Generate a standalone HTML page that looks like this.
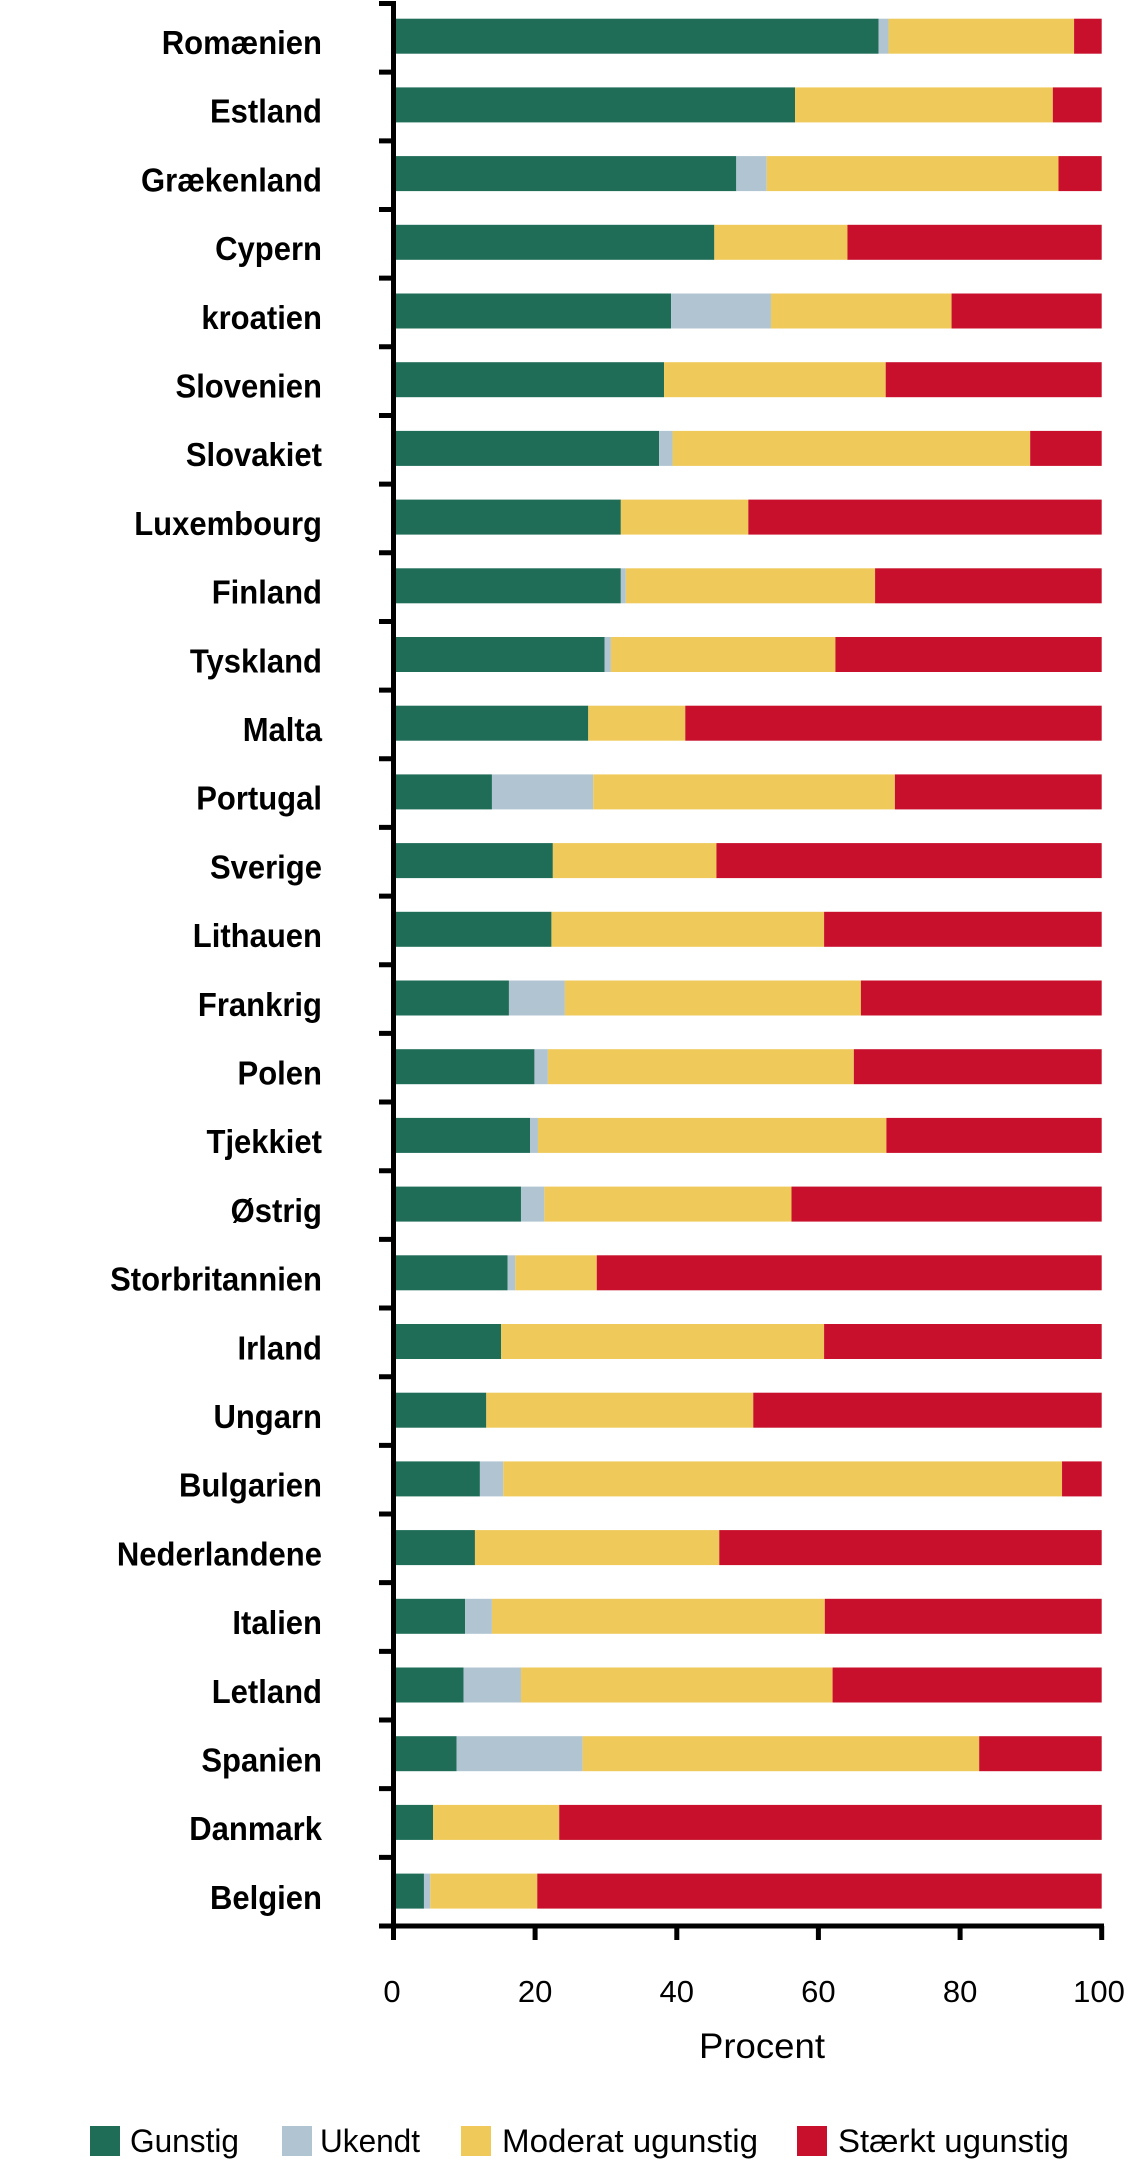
<!DOCTYPE html>
<html>
<head>
<meta charset="utf-8">
<style>
  html,body{margin:0;padding:0;background:#fff;}
  svg{display:block;}
  .lab{font-family:"Liberation Sans",Arial,sans-serif;font-weight:bold;font-size:33px;fill:#000;}
  .tk{font-family:"Liberation Sans",Arial,sans-serif;font-size:31px;fill:#000;}
  .ax{font-family:"Liberation Sans",Arial,sans-serif;font-size:35px;fill:#000;}
  .lg{font-family:"Liberation Sans",Arial,sans-serif;font-size:32.5px;fill:#000;}
</style>
</head>
<body>
<svg width="1131" height="2177" viewBox="0 0 1131 2177" xmlns="http://www.w3.org/2000/svg">
<rect x="0" y="0" width="1131" height="2177" fill="#fff"/>

<!-- bars -->
<g transform="translate(393.5 0) scale(7.082 1)">
  <g transform="translate(0 18.7)"><rect x="0" width="68.5" height="35" fill="#1f6c57"/><rect x="68.5" width="1.4" height="35" fill="#b0c5d1"/><rect x="69.9" width="26.2" height="35" fill="#efca5a"/><rect x="96.1" width="3.9" height="35" fill="#c8102c"/></g>
  <g transform="translate(0 87.4)"><rect x="0" width="56.7" height="35" fill="#1f6c57"/><rect x="56.7" width="36.4" height="35" fill="#efca5a"/><rect x="93.1" width="6.9" height="35" fill="#c8102c"/></g>
  <g transform="translate(0 156.1)"><rect x="0" width="48.4" height="35" fill="#1f6c57"/><rect x="48.4" width="4.3" height="35" fill="#b0c5d1"/><rect x="52.7" width="41.2" height="35" fill="#efca5a"/><rect x="93.9" width="6.1" height="35" fill="#c8102c"/></g>
  <g transform="translate(0 224.8)"><rect x="0" width="45.3" height="35" fill="#1f6c57"/><rect x="45.3" width="18.8" height="35" fill="#efca5a"/><rect x="64.1" width="35.9" height="35" fill="#c8102c"/></g>
  <g transform="translate(0 293.5)"><rect x="0" width="39.2" height="35" fill="#1f6c57"/><rect x="39.2" width="14.1" height="35" fill="#b0c5d1"/><rect x="53.3" width="25.5" height="35" fill="#efca5a"/><rect x="78.8" width="21.2" height="35" fill="#c8102c"/></g>
  <g transform="translate(0 362.2)"><rect x="0" width="38.2" height="35" fill="#1f6c57"/><rect x="38.2" width="31.3" height="35" fill="#efca5a"/><rect x="69.5" width="30.5" height="35" fill="#c8102c"/></g>
  <g transform="translate(0 430.9)"><rect x="0" width="37.5" height="35" fill="#1f6c57"/><rect x="37.5" width="1.9" height="35" fill="#b0c5d1"/><rect x="39.4" width="50.5" height="35" fill="#efca5a"/><rect x="89.9" width="10.1" height="35" fill="#c8102c"/></g>
  <g transform="translate(0 499.6)"><rect x="0" width="32.1" height="35" fill="#1f6c57"/><rect x="32.1" width="18.0" height="35" fill="#efca5a"/><rect x="50.1" width="49.9" height="35" fill="#c8102c"/></g>
  <g transform="translate(0 568.3)"><rect x="0" width="32.1" height="35" fill="#1f6c57"/><rect x="32.1" width="0.7" height="35" fill="#b0c5d1"/><rect x="32.8" width="35.2" height="35" fill="#efca5a"/><rect x="68.0" width="32.0" height="35" fill="#c8102c"/></g>
  <g transform="translate(0 637.0)"><rect x="0" width="29.8" height="35" fill="#1f6c57"/><rect x="29.8" width="0.9" height="35" fill="#b0c5d1"/><rect x="30.7" width="31.7" height="35" fill="#efca5a"/><rect x="62.4" width="37.6" height="35" fill="#c8102c"/></g>
  <g transform="translate(0 705.7)"><rect x="0" width="27.5" height="35" fill="#1f6c57"/><rect x="27.5" width="13.7" height="35" fill="#efca5a"/><rect x="41.2" width="58.8" height="35" fill="#c8102c"/></g>
  <g transform="translate(0 774.4)"><rect x="0" width="13.9" height="35" fill="#1f6c57"/><rect x="13.9" width="14.3" height="35" fill="#b0c5d1"/><rect x="28.2" width="42.6" height="35" fill="#efca5a"/><rect x="70.8" width="29.2" height="35" fill="#c8102c"/></g>
  <g transform="translate(0 843.1)"><rect x="0" width="22.5" height="35" fill="#1f6c57"/><rect x="22.5" width="23.1" height="35" fill="#efca5a"/><rect x="45.6" width="54.4" height="35" fill="#c8102c"/></g>
  <g transform="translate(0 911.8)"><rect x="0" width="22.3" height="35" fill="#1f6c57"/><rect x="22.3" width="38.5" height="35" fill="#efca5a"/><rect x="60.8" width="39.2" height="35" fill="#c8102c"/></g>
  <g transform="translate(0 980.5)"><rect x="0" width="16.3" height="35" fill="#1f6c57"/><rect x="16.3" width="7.9" height="35" fill="#b0c5d1"/><rect x="24.2" width="41.8" height="35" fill="#efca5a"/><rect x="66.0" width="34.0" height="35" fill="#c8102c"/></g>
  <g transform="translate(0 1049.2)"><rect x="0" width="19.9" height="35" fill="#1f6c57"/><rect x="19.9" width="1.9" height="35" fill="#b0c5d1"/><rect x="21.8" width="43.2" height="35" fill="#efca5a"/><rect x="65.0" width="35.0" height="35" fill="#c8102c"/></g>
  <g transform="translate(0 1117.9)"><rect x="0" width="19.3" height="35" fill="#1f6c57"/><rect x="19.3" width="1.1" height="35" fill="#b0c5d1"/><rect x="20.4" width="49.2" height="35" fill="#efca5a"/><rect x="69.6" width="30.4" height="35" fill="#c8102c"/></g>
  <g transform="translate(0 1186.6)"><rect x="0" width="18.0" height="35" fill="#1f6c57"/><rect x="18.0" width="3.3" height="35" fill="#b0c5d1"/><rect x="21.3" width="34.9" height="35" fill="#efca5a"/><rect x="56.2" width="43.8" height="35" fill="#c8102c"/></g>
  <g transform="translate(0 1255.3)"><rect x="0" width="16.1" height="35" fill="#1f6c57"/><rect x="16.1" width="1.1" height="35" fill="#b0c5d1"/><rect x="17.2" width="11.5" height="35" fill="#efca5a"/><rect x="28.7" width="71.3" height="35" fill="#c8102c"/></g>
  <g transform="translate(0 1324.0)"><rect x="0" width="15.2" height="35" fill="#1f6c57"/><rect x="15.2" width="45.6" height="35" fill="#efca5a"/><rect x="60.8" width="39.2" height="35" fill="#c8102c"/></g>
  <g transform="translate(0 1392.7)"><rect x="0" width="13.1" height="35" fill="#1f6c57"/><rect x="13.1" width="37.7" height="35" fill="#efca5a"/><rect x="50.8" width="49.2" height="35" fill="#c8102c"/></g>
  <g transform="translate(0 1461.4)"><rect x="0" width="12.2" height="35" fill="#1f6c57"/><rect x="12.2" width="3.3" height="35" fill="#b0c5d1"/><rect x="15.5" width="78.9" height="35" fill="#efca5a"/><rect x="94.4" width="5.6" height="35" fill="#c8102c"/></g>
  <g transform="translate(0 1530.1)"><rect x="0" width="11.5" height="35" fill="#1f6c57"/><rect x="11.5" width="34.5" height="35" fill="#efca5a"/><rect x="46.0" width="54.0" height="35" fill="#c8102c"/></g>
  <g transform="translate(0 1598.8)"><rect x="0" width="10.1" height="35" fill="#1f6c57"/><rect x="10.1" width="3.8" height="35" fill="#b0c5d1"/><rect x="13.9" width="47.0" height="35" fill="#efca5a"/><rect x="60.9" width="39.1" height="35" fill="#c8102c"/></g>
  <g transform="translate(0 1667.5)"><rect x="0" width="9.9" height="35" fill="#1f6c57"/><rect x="9.9" width="8.1" height="35" fill="#b0c5d1"/><rect x="18.0" width="44.0" height="35" fill="#efca5a"/><rect x="62.0" width="38.0" height="35" fill="#c8102c"/></g>
  <g transform="translate(0 1736.2)"><rect x="0" width="8.9" height="35" fill="#1f6c57"/><rect x="8.9" width="17.8" height="35" fill="#b0c5d1"/><rect x="26.7" width="56.0" height="35" fill="#efca5a"/><rect x="82.7" width="17.3" height="35" fill="#c8102c"/></g>
  <g transform="translate(0 1804.9)"><rect x="0" width="5.6" height="35" fill="#1f6c57"/><rect x="5.6" width="17.8" height="35" fill="#efca5a"/><rect x="23.4" width="76.6" height="35" fill="#c8102c"/></g>
  <g transform="translate(0 1873.6)"><rect x="0" width="4.3" height="35" fill="#1f6c57"/><rect x="4.3" width="0.9" height="35" fill="#b0c5d1"/><rect x="5.2" width="15.1" height="35" fill="#efca5a"/><rect x="20.3" width="79.7" height="35" fill="#c8102c"/></g>
</g>

<!-- axes -->
<g stroke="#000" fill="none">
  <line x1="393.5" y1="1" x2="393.5" y2="1940" stroke-width="5"/>
  <line x1="379" y1="1926" x2="1104" y2="1926" stroke-width="5"/>
  <path stroke-width="5" d="M379 3.5H394 M379 72.16H394 M379 140.82H394 M379 209.48H394 M379 278.14H394 M379 346.8H394 M379 415.46H394 M379 484.12H394 M379 552.78H394 M379 621.44H394 M379 690.1H394 M379 758.76H394 M379 827.42H394 M379 896.08H394 M379 964.74H394 M379 1033.4H394 M379 1102.06H394 M379 1170.72H394 M379 1239.38H394 M379 1308.04H394 M379 1376.7H394 M379 1445.36H394 M379 1514.02H394 M379 1582.68H394 M379 1651.34H394 M379 1720H394 M379 1788.66H394 M379 1857.32H394"/>
  <path stroke-width="5" d="M535.1 1926V1940 M676.8 1926V1940 M818.4 1926V1940 M960.1 1926V1940 M1101.7 1926V1940"/>
</g>

<!-- category labels -->
<g class="lab" text-anchor="end" transform="translate(322 0) scale(0.94 1) translate(-322 0)">
  <text x="322" y="54">Romænien</text>
  <text x="322" y="122.7">Estland</text>
  <text x="322" y="191.4">Grækenland</text>
  <text x="322" y="260.1">Cypern</text>
  <text x="322" y="328.8">kroatien</text>
  <text x="322" y="397.5">Slovenien</text>
  <text x="322" y="466.2">Slovakiet</text>
  <text x="322" y="534.9">Luxembourg</text>
  <text x="322" y="603.6">Finland</text>
  <text x="322" y="672.3">Tyskland</text>
  <text x="322" y="741">Malta</text>
  <text x="322" y="809.7">Portugal</text>
  <text x="322" y="878.4">Sverige</text>
  <text x="322" y="947.1">Lithauen</text>
  <text x="322" y="1015.8">Frankrig</text>
  <text x="322" y="1084.5">Polen</text>
  <text x="322" y="1153.2">Tjekkiet</text>
  <text x="322" y="1221.9">Østrig</text>
  <text x="322" y="1290.6">Storbritannien</text>
  <text x="322" y="1359.3">Irland</text>
  <text x="322" y="1428">Ungarn</text>
  <text x="322" y="1496.7">Bulgarien</text>
  <text x="322" y="1565.4">Nederlandene</text>
  <text x="322" y="1634.1">Italien</text>
  <text x="322" y="1702.8">Letland</text>
  <text x="322" y="1771.5">Spanien</text>
  <text x="322" y="1840.2">Danmark</text>
  <text x="322" y="1908.9">Belgien</text>
</g>

<!-- x tick labels -->
<g class="tk" text-anchor="middle">
  <text x="392" y="2002">0</text>
  <text x="535.1" y="2002">20</text>
  <text x="676.8" y="2002">40</text>
  <text x="818.4" y="2002">60</text>
  <text x="960.1" y="2002">80</text>
  <text x="1099" y="2002">100</text>
</g>
<text class="ax" x="762" y="2058" text-anchor="middle" textLength="126" lengthAdjust="spacingAndGlyphs">Procent</text>

<!-- legend -->
<rect x="90" y="2126" width="30" height="30" fill="#1f6c57"/>
<text class="lg" x="130" y="2152" textLength="109" lengthAdjust="spacingAndGlyphs">Gunstig</text>
<rect x="282" y="2126" width="30" height="30" fill="#b0c5d1"/>
<text class="lg" x="320" y="2152" textLength="100" lengthAdjust="spacingAndGlyphs">Ukendt</text>
<rect x="461" y="2126" width="30" height="30" fill="#efca5a"/>
<text class="lg" x="502" y="2152" textLength="256" lengthAdjust="spacingAndGlyphs">Moderat ugunstig</text>
<rect x="797" y="2126" width="30" height="30" fill="#c8102c"/>
<text class="lg" x="838" y="2152" textLength="231" lengthAdjust="spacingAndGlyphs">Stærkt ugunstig</text>
</svg>
</body>
</html>
